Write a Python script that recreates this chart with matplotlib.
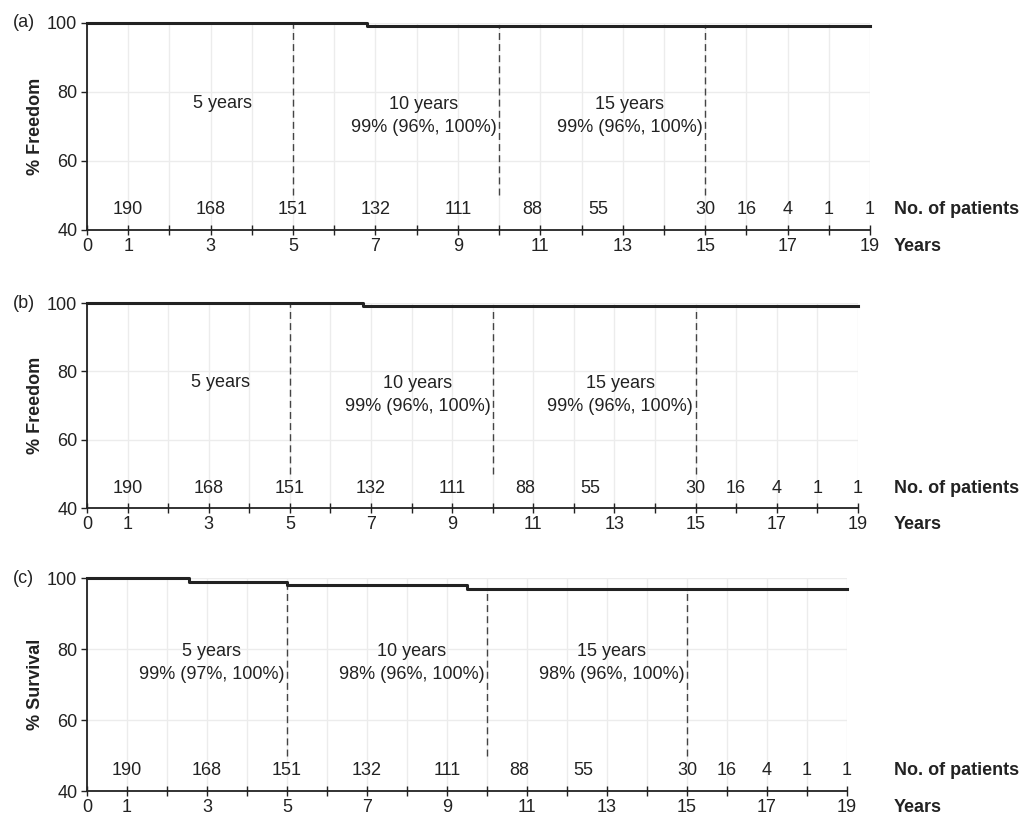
import matplotlib
matplotlib.use("Agg")
import matplotlib.pyplot as plt
from matplotlib.transforms import blended_transform_factory

plt.rcParams['font.family'] = ['Liberation Sans', 'DejaVu Sans']
plt.rcParams['font.size'] = 13

# Kaplan-Meier curves (years, %)
times_a = [0, 6.8, 19]
values_a = [100, 99, 99]
times_b = [0, 6.8, 19]
values_b = [100, 99, 99]
times_c = [0, 2.55, 5.0, 9.5, 19]
values_c = [100, 99, 98, 97, 97]

# number at risk and where it's printed
at_risk = [190, 168, 151, 132, 111, 88, 55, 30, 16, 4, 1, 1]
at_risk_x = [1, 3, 5, 7, 9, 10.8, 12.4, 15, 16, 17, 18, 19]

landmarks = [5, 10, 15]
notes_a = ["5 years", "10 years\n99% (96%, 100%)", "15 years\n99% (96%, 100%)"]
notes_b = ["5 years", "10 years\n99% (96%, 100%)", "15 years\n99% (96%, 100%)"]
notes_c = ["5 years\n99% (97%, 100%)", "10 years\n98% (96%, 100%)",
           "15 years\n98% (96%, 100%)"]

panels = [
    ("(a)", "% Freedom", times_a, values_a, notes_a, [0.0843, 0.7185, 0.7587, 0.2534], 73.0),
    ("(b)", "% Freedom", times_b, values_b, notes_b, [0.0843, 0.3782, 0.7470, 0.2509], 73.0),
    ("(c)", "% Survival", times_c, values_c, notes_c, [0.0843, 0.0318, 0.7364, 0.2607], 76.0),
]

fig = plt.figure(figsize=(10.32, 8.17), dpi=100)

for tag, ylab, t, v, notes, rect, note_y in panels:
    ax = fig.add_axes(rect)
    ax.set_xlim(0, 19)
    ax.set_ylim(40, 100)

    for x in range(0, 20):
        ax.axvline(x, color="#ececec", lw=1, zorder=0)
    for y in [60, 80, 100]:
        ax.axhline(y, color="#ececec", lw=1, zorder=0)

    ax.step(t, v, where="post", color="#222222", lw=2.2, clip_on=False, zorder=5)

    # dashed landmark lines from the curve down to 50 %
    for lm, note in zip(landmarks, notes):
        top = v[[i for i, ti in enumerate(t) if ti <= lm][-1]]
        ax.plot([lm, lm], [50, top], color="#444444", lw=1, ls=(0, (5, 3)), zorder=4)
        if "\n" in note:
            ax.text(lm - 0.06, note_y, note, ha="right", va="center",
                    multialignment="center", color="#222222", linespacing=1.45)
        else:
            ax.text(lm - 1.7, note_y + 3.7, note, ha="center", va="center",
                    color="#222222")

    for x, n in zip(at_risk_x, at_risk):
        ax.text(x, 45.8, str(n), ha="center", va="center", color="#222222")

    ax.set_xticks(range(0, 20))
    ax.set_xticklabels([str(i) if (i == 0 or i % 2 == 1) else "" for i in range(0, 20)])
    ax.set_yticks([40, 60, 80, 100])
    ax.tick_params(axis="x", direction="inout", length=7, width=1, pad=2, colors="#222222")
    ax.tick_params(axis="y", direction="out", length=4, width=1, pad=3, colors="#222222")
    for side in ["top", "right"]:
        ax.spines[side].set_visible(False)
    for side in ["left", "bottom"]:
        ax.spines[side].set_linewidth(1.3)
        ax.spines[side].set_color("#222222")

    tr = blended_transform_factory(fig.transFigure, ax.transData)
    fig.text(0.866, 45.8, "No. of patients", transform=tr, ha="left", va="center",
             fontweight="bold", color="#222222")
    fig.text(0.012, 100, tag, transform=tr, ha="left", va="center", color="#222222")
    ax.annotate("Years", xy=(0.866, 0), xycoords=(fig.transFigure, ax.transAxes),
                xytext=(0, -5.5), textcoords="offset points", ha="left", va="top",
                fontweight="bold", color="#222222")
    fig.text(0.034, rect[1] + rect[3] / 2, ylab, rotation=90, ha="center", va="center",
             fontweight="bold", color="#222222")

fig.savefig("out.png", dpi=100)
